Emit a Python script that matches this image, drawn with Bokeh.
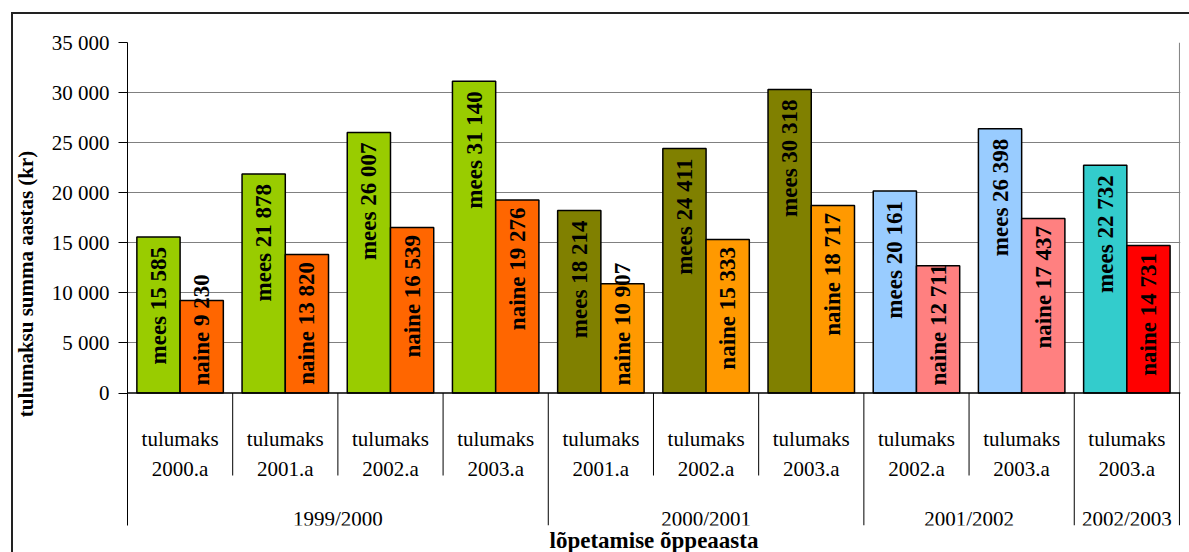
import numpy as np
from bokeh.plotting import figure
from bokeh.models import ColumnDataSource, Range1d, FixedTicker, Span, Title
from bokeh.core.properties import value
from bokeh.embed import file_html
from bokeh.resources import INLINE

# ---------------- data ----------------
groups = ["1999/2000", "1999/2000", "1999/2000", "1999/2000",
          "2000/2001", "2000/2001", "2000/2001",
          "2001/2002", "2001/2002",
          "2002/2003"]
years = ["2000.a", "2001.a", "2002.a", "2003.a",
         "2001.a", "2002.a", "2003.a",
         "2002.a", "2003.a",
         "2003.a"]
cat_prefix = "tulumaks"
mees = [15585, 21878, 26007, 31140, 18214, 24411, 30318, 20161, 26398, 22732]
naine = [9230, 13820, 16539, 19276, 10907, 15333, 18717, 12711, 17437, 14731]
group_colors = {
    "1999/2000": ("#99CC00", "#FF6600"),
    "2000/2001": ("#808000", "#FF9900"),
    "2001/2002": ("#99CCFF", "#FF8080"),
    "2002/2003": ("#33CCCC", "#FF0000"),
}
y_ticks = [0, 5000, 10000, 15000, 20000, 25000, 30000, 35000]
y_tick_labels = ["0", "5 000", "10 000", "15 000", "20 000", "25 000", "30 000", "35 000"]
y_title = "tulumaksu summa aastas (kr)"
x_title = "lõpetamise õppeaasta"

SERIF = "Liberation Serif"
SERIF_V = value(SERIF)

def fmt(v):
    return f"{v:,}".replace(",", " ")

n = len(years)
centers = np.arange(n) + 0.5
bw = 0.411
Y_MIN = -13230

p = figure(width=1189, height=552, output_backend="svg", toolbar_location=None,
           x_axis_location=None,
           x_range=Range1d(0, n + 0.01), y_range=Range1d(Y_MIN, 35000),
           min_border_left=127, min_border_right=9, min_border_top=42,
           min_border_bottom=27)
p.outline_line_color = None
p.background_fill_color = "white"
p.border_fill_color = None
p.styles = {
    "background": ("linear-gradient(#222222, #222222) 11px 12px / 2px 100% no-repeat, "
                   "linear-gradient(#222222, #222222) 11px 12px / 100% 2px no-repeat, white"),
}
p.xgrid.visible = False

# y axis
p.yaxis.ticker = FixedTicker(ticks=y_ticks, minor_ticks=[])
p.yaxis.major_label_overrides = {t: l for t, l in zip(y_ticks, y_tick_labels)}
p.yaxis.major_tick_out = 9
p.yaxis.major_tick_in = 0
p.yaxis.minor_tick_line_color = None
p.yaxis.axis_line_color = "black"
p.yaxis.major_tick_line_color = "black"
p.yaxis.major_label_standoff = 9
p.yaxis.major_label_text_font = SERIF
p.yaxis.major_label_text_font_size = "21px"
p.yaxis.major_label_text_color = "black"
p.yaxis.axis_label = y_title
p.yaxis.axis_label_text_font = SERIF
p.yaxis.axis_label_text_font_style = "bold"
p.yaxis.axis_label_text_font_size = "21px"
p.yaxis.axis_label_text_color = "black"
p.yaxis.axis_label_standoff = 11

p.ygrid.ticker = FixedTicker(ticks=[t for t in y_ticks if t > 0])
p.ygrid.grid_line_color = "#808080"
p.ygrid.grid_line_width = 1

# plot area right border
p.segment(x0=[n], y0=[0], x1=[n], y1=[y_ticks[-1]], line_color="#808080", line_width=1)

# bars
mees_colors = [group_colors[g][0] for g in groups]
naine_colors = [group_colors[g][1] for g in groups]
src_m = ColumnDataSource(dict(x=centers - bw / 2, top=mees, color=mees_colors))
src_n = ColumnDataSource(dict(x=centers + bw / 2, top=naine, color=naine_colors))
p.vbar(x="x", top="top", bottom=0, width=bw, source=src_m,
       fill_color="color", line_color="black", line_width=1.5)
p.vbar(x="x", top="top", bottom=0, width=bw, source=src_n,
       fill_color="color", line_color="black", line_width=1.5)

# baseline
p.add_layout(Span(location=0, dimension="width", line_color="black", line_width=1.5))

# bar labels
FIT_MIN = 13000
def add_labels(xs, vals, word, pad):
    fit = dict(x=[], y=[], t=[])
    over = dict(x=[], y=[], t=[])
    for x, v in zip(xs, vals):
        t = f"{word} {fmt(v)}"
        if v >= FIT_MIN:
            fit["x"].append(x); fit["y"].append(v - pad); fit["t"].append(t)
        else:
            over["x"].append(x); over["y"].append(750); over["t"].append(t)
    for d, align in ((fit, "right"), (over, "left")):
        if d["x"]:
            p.text(x="x", y="y", text="t", source=ColumnDataSource(d), angle=np.pi / 2,
                   text_align=align, text_baseline="middle", text_font=SERIF_V,
                   text_font_style="bold", text_font_size="23px", text_color="black")

add_labels(centers - bw / 2, mees, "mees", 1000)
add_labels(centers + bw / 2, naine, "naine", 750)

# category axis (drawn inside extended frame below zero)
p.text(x=centers, y=[-4580] * n, text=[cat_prefix] * n, text_align="center",
       text_baseline="alphabetic", text_font=SERIF_V, text_font_size="21px", text_color="black")
p.text(x=centers, y=[-7570] * n, text=years, text_align="center",
       text_baseline="alphabetic", text_font=SERIF_V, text_font_size="21px", text_color="black")

uniq_groups = []
for g in groups:
    if g not in uniq_groups:
        uniq_groups.append(g)
g_centers = [np.mean([i + 0.5 for i, gg in enumerate(groups) if gg == g]) for g in uniq_groups]
p.text(x=g_centers, y=[-12560] * len(uniq_groups), text=uniq_groups, text_align="center",
       text_baseline="alphabetic", text_font=SERIF_V, text_font_size="21px", text_color="black")

sep_x, sep_y1 = [], []
for i in range(1, n + 1):
    long_sep = (i == n) or (groups[i] != groups[i - 1])
    sep_x.append(i)
    sep_y1.append(Y_MIN if long_sep else -8238)
p.segment(x0=sep_x, y0=[0] * len(sep_x), x1=sep_x, y1=sep_y1, line_color="black", line_width=1)

# x axis title
p.add_layout(Title(text=x_title, align="center", text_font=SERIF, text_font_style="bold",
                   text_font_size="23px", text_color="black", standoff=0), "below")

open("out.html", "w").write(file_html(p, INLINE))
